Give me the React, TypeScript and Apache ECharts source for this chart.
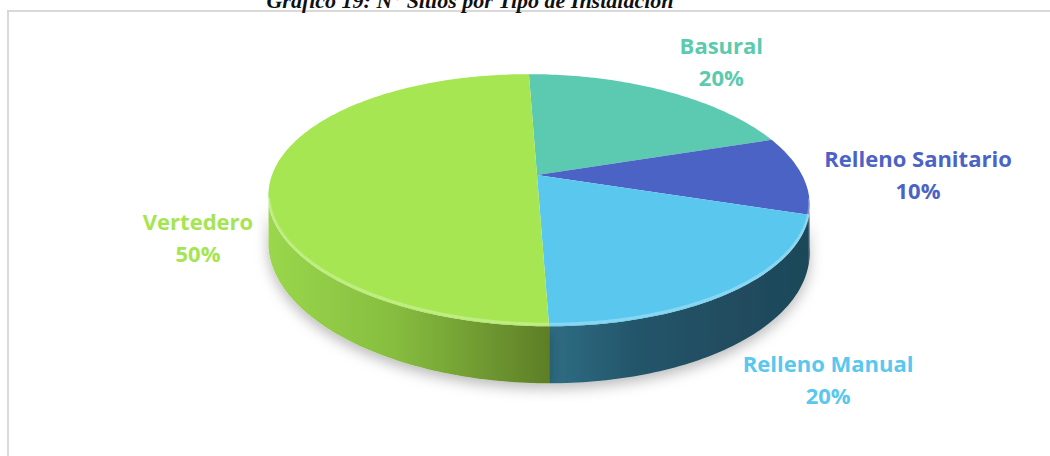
import React, { useEffect, useRef } from "react";
import * as echarts from "echarts";

const TITLE = "Gráfico 19: N° Sitios por Tipo de Instalación";
const CATEGORIES = ["Basural", "Relleno Sanitario", "Relleno Manual", "Vertedero"];
const SITES = [2, 1, 2, 5];
const TOP_COLORS = ["#5ccab0", "#4a63c4", "#5ac8ee", "#a6e652"];
const LABEL_COLORS = ["#5ccaae", "#4c63c6", "#5ac8ee", "#a5e551"];

export default function App() {
  const ref = useRef<HTMLDivElement>(null);

  useEffect(() => {
    document.body.style.margin = "0";
    const chart = echarts.init(ref.current!, null, { renderer: "svg" });

    const total = SITES.reduce((a, b) => a + b, 0);
    const starts: number[] = [];
    let acc = 0;
    SITES.forEach((v) => {
      starts.push((acc / total) * Math.PI * 2);
      acc += v;
    });

    // 3D projection layout
    const CX = 537, CY = 175, RX = 265, RY = 121, P = 0.2, T0 = 45.6, SKEW = 0.08;
    const proj = (t: number) => {
      const u = Math.sin(t), v = Math.cos(t), k = 1 / (1 + P * v);
      const y = CY - RY * v * k;
      return [CX + RX * u * k + SKEW * (y - CY), y, k];
    };
    const arc = (a: number, b: number) => {
      const n = Math.max(2, Math.ceil((b - a) / (Math.PI / 180)));
      const pts: number[][] = [];
      for (let i = 0; i <= n; i++) pts.push(proj(a + ((b - a) * i) / n));
      return pts;
    };
    const silA = Math.acos(-P);
    const silB = Math.PI * 2 - silA;

    const sideFill = (i: number) => {
      if (i === 3)
        return new echarts.graphic.LinearGradient(268, 0, 550, 0, [
          { offset: 0, color: "#9ad74c" },
          { offset: 0.45, color: "#86bd3f" },
          { offset: 1, color: "#5e7e27" },
        ], true);
      if (i === 2)
        return new echarts.graphic.LinearGradient(550, 0, 808, 0, [
          { offset: 0, color: "#2f6d84" },
          { offset: 0.35, color: "#235468" },
          { offset: 1, color: "#1e4759" },
        ], true);
      if (i === 1) return "#2c3c86";
      return "#3a8a78";
    };

    // label placement offsets from the slice's rim mid-point (layout)
    const LABEL_NUDGE = [
      [57, -30],
      [116, -1],
      [96, 87],
      [-74, 62],
    ];

    const sides = (params: any, api: any) => {
      const i = params.dataIndex;
      const a = starts[i];
      const b = a + (api.value(0) / total) * Math.PI * 2;
      const s = Math.max(a, silA);
      const e = Math.min(b, silB);
      if (s >= e) return { type: "group", children: [] };
      const top = arc(s, e);
      const bottom = top.map((p) => [p[0], p[1] + T0 * p[2]]).reverse();
      const points = top.map((p) => [p[0], p[1]]).concat(bottom);
      return {
        type: "group",
        children: [
          {
            type: "polygon",
            shape: { points },
            style: {
              fill: sideFill(i),
              shadowBlur: 14,
              shadowColor: "rgba(0,0,0,0.28)",
              shadowOffsetY: 5,
            },
          },
        ],
      };
    };

    const tops = (params: any, api: any) => {
      const i = params.dataIndex;
      const val = api.value(0);
      const a = starts[i];
      const b = a + (val / total) * Math.PI * 2;
      const rim = arc(a, b).map((p) => [p[0], p[1]]);
      const points = [[CX, CY]].concat(rim);
      const children: any[] = [
        { type: "polygon", shape: { points }, style: { fill: TOP_COLORS[i] } },
      ];
      const s = Math.max(a, silA);
      const e = Math.min(b, silB);
      if (s < e) {
        const edge = arc(s, e).map((p) => [p[0], p[1] - 2]);
        children.push({
          type: "polyline",
          shape: { points: edge },
          style: { stroke: "rgba(255,255,255,0.28)", lineWidth: 3, fill: "none" },
        });
      }
      const mid = proj((a + b) / 2);
      const pct = Math.round((val / total) * 100);
      children.push({
        type: "text",
        x: mid[0] + LABEL_NUDGE[i][0],
        y: mid[1] + LABEL_NUDGE[i][1],
        style: {
          text: `${CATEGORIES[i]}\n${pct}%`,
          fill: LABEL_COLORS[i],
          fontFamily: "Open Sans",
          fontWeight: "bold",
          fontSize: 22,
          lineHeight: 32,
          align: "center",
          verticalAlign: "middle",
        },
      });
      return { type: "group", children };
    };

    const data = SITES.map((v, i) => ({ name: CATEGORIES[i], value: [v] }));

    chart.setOption({
      animation: false,
      backgroundColor: "#ffffff",
      graphic: [
        {
          type: "rect",
          shape: { x: 8, y: 11, width: 1100, height: 500 },
          style: { fill: "none", stroke: "#d9d9d9", lineWidth: 2 },
          z: 0,
        },
        {
          type: "text",
          x: 470,
          y: 0.5,
          style: {
            text: TITLE,
            fill: "#111111",
            fontFamily: "Liberation Serif",
            fontStyle: "italic",
            fontWeight: "bold",
            fontSize: 22,
            align: "center",
            verticalAlign: "middle",
          },
          z: 10,
        },
      ],
      series: [
        { type: "custom", coordinateSystem: "none", renderItem: sides, data, z: 2 },
        { type: "custom", coordinateSystem: "none", renderItem: tops, data, z: 3 },
      ],
    });

    return () => chart.dispose();
  }, []);

  return <div ref={ref} style={{ width: 1050, height: 456 }} />;
}
